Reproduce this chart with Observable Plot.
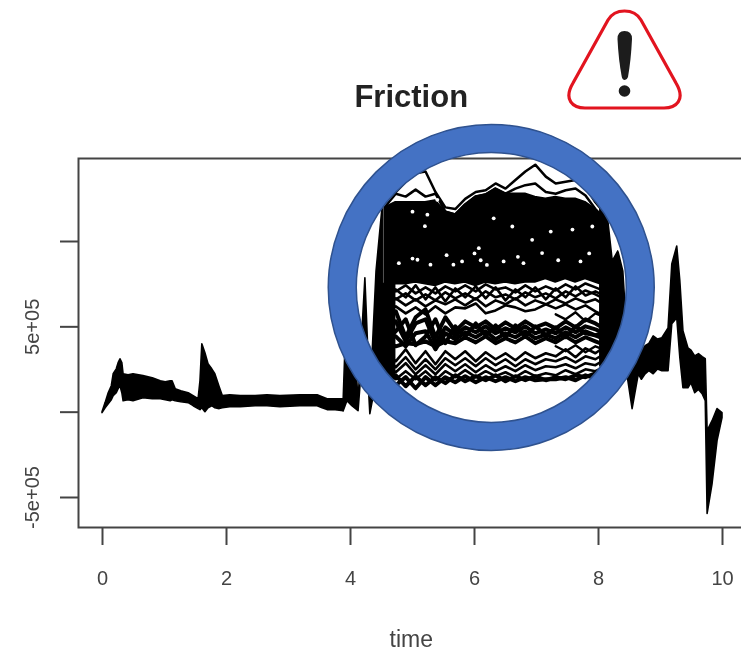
<!DOCTYPE html>
<html><head><meta charset="utf-8">
<script src="https://cdn.jsdelivr.net/npm/d3@7"></script>
<script src="https://cdn.jsdelivr.net/npm/@observablehq/plot@0.6"></script>
<style>
html,body{margin:0;padding:0;background:#fff}
#wrap{position:relative;width:741px;height:652px;overflow:hidden}
#wrap svg.chart{filter:blur(.5px)}
#icon{position:absolute;left:0;top:0}
</style></head><body><div id="wrap"></div>
<script>
// All friction values are in units of 1e5
const xTicks=[0,2,4,6,8,10];
const yTicks=[-5,0,5,10];
const yTickLabels=["-5e+05","","5e+05",""];

const timeStart=[0,.05,.10,.15,.18,.23,.26,.29,.32,.34,.42,.50,.66,.81,.94,1.02,1.10,1.13,1.18,1.27,1.39,1.47,1.55,1.58,1.61,1.66,1.71,1.77,1.82,1.89,1.94,2.06,2.23,2.47,2.66,2.87,3.19,3.47,3.55,3.63,3.76,3.89];
const startUpper=[0,.53,1.11,1.52,2.22,2.51,2.87,3.10,2.87,2.22,2.16,2.22,2.11,1.99,1.81,1.75,1.81,1.81,1.35,1.23,1.11,.94,.76,1.81,3.98,3.45,2.81,2.51,2.22,1.46,.94,.99,.94,.94,.99,.94,.99,.99,.88,.76,.76,.76];
const startLower=[-.06,.23,.47,.70,.94,1.11,1.35,1.52,1.11,.64,.70,.64,.82,.76,.76,.70,.64,.70,.64,.58,.53,.35,.18,.12,.23,0,.23,.35,.23,.18,.23,.29,.29,.35,.35,.29,.35,.35,.23,.12,.12,.06];

const timeRise=[3.89,3.95,4.03,4.13,4.24,4.32,4.42,4.53];
const riseUpper=[.76,7.08,6.49,.64,7.84,.64,8.25,12.5];
const riseLower=[.06,.64,.35,.06,5.32,-.12,1.81,1.52];

const timeEdge=[4.53,4.62,4.72];
const edgeUpper=[7.5,7.5,7.5];
const edgeLower=[1.52,1.81,2.1];

const timeMid=[4.56,4.73,4.89,5.05,5.21,5.37,5.53,5.69,5.85,6.02,6.18,6.34,6.5,6.66,6.82,6.98,7.15,7.31,7.47,7.63,7.79,7.95,8.11];
const peakLine=[12.5,12.9,13.5,14.0,14.1,12.9,12.0,11.9,12.5,12.9,13.0,13.4,13.1,13.6,14.1,14.5,13.8,13.4,13.5,13.6,13.2,12.3,11.6];
const peakInner=[12.05,12.8,12.63,13.04,12.63,12.8,11.75,11.58,12.16,12.63,12.75,13.1,12.8,13.1,13.3,13.4,12.9,12.8,13.0,13.1,12.7,11.9,11.3];
const blockTop=[12.0,12.3,12.3,12.3,12.3,12.4,11.75,11.58,12.16,12.63,12.75,13.1,12.8,12.8,12.8,12.6,12.5,12.6,12.5,12.5,12.3,11.9,11.3];
const blockBottom=[7.4,7.5,7.5,7.6,7.5,7.4,7.6,7.5,7.6,7.4,7.6,7.5,7.6,7.5,7.6,7.6,7.8,7.6,7.8,7.6,7.8,7.6,7.4];
const a1=[7.31,7.08,7.43,6.96,7.31,6.96,7.37,7.08,7.43,7.08,7.49,7.19,7.31,7.02,7.43,7.08,7.37,7.13,7.49,7.19,7.54,7.31,7.08];
const a2=[6.84,6.61,6.96,6.55,6.90,6.55,7.02,6.67,6.96,6.61,7.08,6.73,6.90,6.61,7.02,6.73,6.96,6.67,7.08,6.78,7.13,6.90,6.61];
const a3=[6.37,6.67,6.26,6.61,6.20,6.55,6.32,6.61,6.26,6.67,6.20,6.55,6.32,6.67,6.26,6.55,6.32,6.61,6.37,6.67,6.43,6.61,6.26];
const a4=[5.91,6.20,5.79,6.14,5.73,6.20,5.79,6.14,6.08,6.37,5.79,5.96,6.26,6.14,5.91,6.02,6.32,6.08,6.32,6.02,6.26,5.91,5.61];
const a5=[6.49,7.19,6.73,7.43,6.61,7.31,6.49,7.25,6.73,7.37,6.67,7.31,6.55,7.19,6.73,7.31,6.61,7.25,6.73,7.37,6.84,7.08,6.78];
const b1=[5.44,5.91,4.39,5.56,6.02,4.39,5.56,4.74,5.32,4.97,5.32,4.85,5.26,4.91,5.32,4.97,5.20,4.91,5.32,4.97,5.44,5.20,4.85];
const b2=[5.03,5.32,4.15,5.20,5.44,4.04,4.97,4.50,4.97,4.68,5.03,4.62,4.91,4.68,5.03,4.62,4.85,4.62,4.97,4.68,5.03,4.85,4.62];
const b3=[4.62,4.44,3.86,4.62,4.74,3.68,4.62,4.27,4.68,4.39,4.74,4.27,4.62,4.39,4.74,4.33,4.56,4.33,4.68,4.39,4.74,4.50,4.27];
const b4=[4.15,3.86,4.04,3.98,4.15,3.86,4.15,4.04,4.39,4.09,4.44,4.04,4.33,4.09,4.44,4.04,4.33,4.09,4.44,4.09,4.39,4.15,3.92];
const b5=[4.15,4.74,5.44,3.92,4.44,5.44,4.04,5.03,4.44,5.20,4.50,5.09,4.39,5.09,4.44,5.03,4.50,4.97,4.39,5.03,4.62,4.50,4.74];
const c1=[3.57,2.98,3.68,2.87,3.57,2.81,3.57,3.10,3.57,2.98,3.51,3.10,3.45,3.04,3.51,3.16,3.45,3.27,3.68,3.22,3.74,3.45,3.86];
const c2=[3.10,2.63,3.22,2.51,3.10,2.51,3.16,2.75,3.16,2.69,3.16,2.75,3.10,2.69,3.10,2.81,3.10,2.98,3.22,2.92,3.27,3.10,3.45];
const c3=[2.75,2.34,2.87,2.22,2.75,2.22,2.81,2.40,2.81,2.34,2.75,2.40,2.69,2.40,2.75,2.46,2.69,2.63,2.81,2.57,2.87,2.75,3.10];
const c4=[2.28,1.93,2.40,1.93,2.40,1.87,2.40,2.05,2.46,2.05,2.40,2.11,2.34,2.05,2.40,2.11,2.28,2.16,2.46,2.22,2.51,2.40,2.69];
const c5=[1.93,1.58,2.05,1.40,2.05,1.58,2.05,1.75,2.11,1.75,2.05,1.81,2.05,1.81,2.05,1.87,1.93,1.93,2.05,1.87,2.16,1.99,2.40];
const c6=[1.70,2.16,1.52,2.11,1.58,2.05,1.70,2.16,1.81,2.11,1.87,2.16,1.81,2.11,1.87,2.11,1.87,2.05,1.93,2.16,2.05,2.28,2.28];

const timeLate=[7.31,7.47,7.63,7.79,7.95,8.11];
const lateUpper=[5.73,5.44,5.85,5.32,5.79,5.56];
const lateLower=[3.86,3.57,3.92,3.51,3.86,3.63];

const timeFall=[8.03,8.15,8.23,8.32,8.40,8.47];
const fallUpper=[12.05,11.46,8.83,9.42,8.25,4.15];
const fallLower=[2.69,2.4,2.4,2.28,2.11,1.93];

const timeEnd=[8.47,8.55,8.65,8.70,8.76,8.82,8.89,8.96,9.03,9.13,9.19,9.27,9.32,9.37,9.45,9.50,9.56,9.62,9.68,9.73,9.76,9.84,9.92,10];
const endUpper=[4.15,2.40,3.39,3.60,3.86,4.00,4.44,4.25,4.33,4.91,8.65,9.71,7.66,4.74,3.74,3.60,3.27,3.40,3.22,3.10,-1.11,-.53,.18,-.06];
const endLower=[2.11,.18,2.22,1.90,2.22,2.40,2.22,2.50,2.40,2.40,5.15,5.50,3.16,1.40,1.40,1.70,1.11,1.30,1.05,.64,-5.96,-4.21,-1.70,-.35];

// pale gaps between overplotted curves in the dense block
const gapTime=[5.08,4.78,5.80,6.47,7.09,6.79,7.23,7.58,7.90,6.31,6.93,6.61,6.07,5.24,5.0,5.4,5.29,5.66,6.2,7.71,5.0,5.55,6.1,6.7,7.35,7.85,8.28,8.28,8.35,8.22,6.0,5.2];
const gapValue=[8.93,8.73,8.83,8.83,9.32,8.73,10.58,10.7,10.88,11.36,10.1,10.88,9.61,11.57,11.75,12.44,8.64,8.64,8.63,8.83,9.0,9.2,8.9,9.1,8.9,9.3,11.0,10.2,9.5,10.6,9.3,10.9];

const ringCentreTime=[6.27], ringCentreValue=[7.31];

const band=(t,u,l)=>t.map((x,i)=>({x,u:u[i],l:l[i]}));
const thinCurves=[a1,a2,a3,a4,a5,c1,c2,c3,c4];
const thickCurves=[b1,b2,b3,b4,b5,c5,c6];
const curveRows=cs=>cs.flatMap((c,k)=>c.map((y,i)=>({x:timeMid[i],y,k})));
const ink="#000", axisInk="#444";
const bandMark=d=>Plot.areaY(d,{x:"x",y1:"l",y2:"u",fill:ink,stroke:ink,strokeWidth:1.6,strokeLinejoin:"round"});

const chart=Plot.plot({
  width:741,height:652,
  marginLeft:78,marginTop:158,marginBottom:125,marginRight:-10,
  x:{domain:[0,10],range:[102,722]},
  y:{domain:[-5,10],range:[497,241]},
  style:{fontFamily:"'Liberation Sans',Arial,sans-serif",background:"transparent",overflow:"visible"},
  marks:[
    Plot.frame({stroke:axisInk,strokeWidth:2}),
    Plot.axisX({ticks:xTicks,tickSize:18,tickPadding:25,fontSize:20,label:null,color:axisInk,strokeWidth:2,tickFormat:d=>String(d)}),
    Plot.axisY({ticks:yTicks,tickSize:18,tickPadding:22,fontSize:20,label:null,color:axisInk,strokeWidth:2,tickRotate:-90,tickFormat:d=>yTickLabels[yTicks.indexOf(d)]}),
    bandMark(band(timeStart,startUpper,startLower)),
    bandMark(band(timeRise,riseUpper,riseLower)),
    bandMark(band(timeEdge,edgeUpper,edgeLower)),
    bandMark(band(timeMid,blockTop,blockBottom)),
    bandMark(band(timeFall,fallUpper,fallLower)),
    bandMark(band(timeEnd,endUpper,endLower)),
    Plot.line(timeMid.map((x,i)=>({x,y:peakLine[i]})),{x:"x",y:"y",stroke:ink,strokeWidth:2.5}),
    Plot.line(timeMid.map((x,i)=>({x,y:peakInner[i]})),{x:"x",y:"y",stroke:ink,strokeWidth:2.5}),
    Plot.line(curveRows(thinCurves),{x:"x",y:"y",z:"k",stroke:ink,strokeWidth:2.6}),
    Plot.line(curveRows(thickCurves),{x:"x",y:"y",z:"k",stroke:ink,strokeWidth:4}),
    Plot.line(timeLate.map((x,i)=>({x,y:lateUpper[i]})),{x:"x",y:"y",stroke:ink,strokeWidth:2.4}),
    Plot.line(timeLate.map((x,i)=>({x,y:lateLower[i]})),{x:"x",y:"y",stroke:ink,strokeWidth:2.4}),
    Plot.dot(gapTime.map((x,i)=>({x,y:gapValue[i]})),{x:"x",y:"y",r:1.9,fill:"#fff"}),
    Plot.dot(ringCentreTime.map((x,i)=>({x,y:ringCentreValue[i]})),{x:"x",y:"y",r:149,fill:"none",stroke:"#4472C4",strokeWidth:28}),
    Plot.dot(ringCentreTime.map((x,i)=>({x,y:ringCentreValue[i]})),{x:"x",y:"y",r:163,fill:"none",stroke:"#2F528F",strokeWidth:1.5}),
    Plot.dot(ringCentreTime.map((x,i)=>({x,y:ringCentreValue[i]})),{x:"x",y:"y",r:135,fill:"none",stroke:"#2F528F",strokeWidth:1.5}),
    Plot.text(["Friction"],{x:[4.98],y:[18.48],text:d=>d,fontSize:31,fontWeight:"bold",fill:"#222"}),
    Plot.text(["time"],{x:[4.98],y:[-13.3],text:d=>d,fontSize:23,fill:axisInk})
  ]
});
chart.classList.add("chart");
document.getElementById("wrap").appendChild(chart);
document.getElementById("wrap").insertAdjacentHTML("beforeend",`
<svg id="icon" width="741" height="130" viewBox="0 0 741 130" style="filter:blur(.4px)">
  <path d="M608 20 C615 8 634 8 641 20 L676 83 C686 100 676 108 664 108 L585 108 C573 108 563 100 573 83 Z" fill="#fff" stroke="#e2141f" stroke-width="3.200" stroke-linejoin="round"/>
  <path d="M617.500 39 Q617.500 31 624.500 31 Q632 31 632 39 Q631 60 628 77 Q627 80 624.800 80 Q622.500 80 621.800 77 Q618.500 60 617.500 39 Z" fill="#1c1c1c"/>
  <circle cx="624.500" cy="91" r="5.800" fill="#1c1c1c"/>
</svg>`);
</script></body></html>
